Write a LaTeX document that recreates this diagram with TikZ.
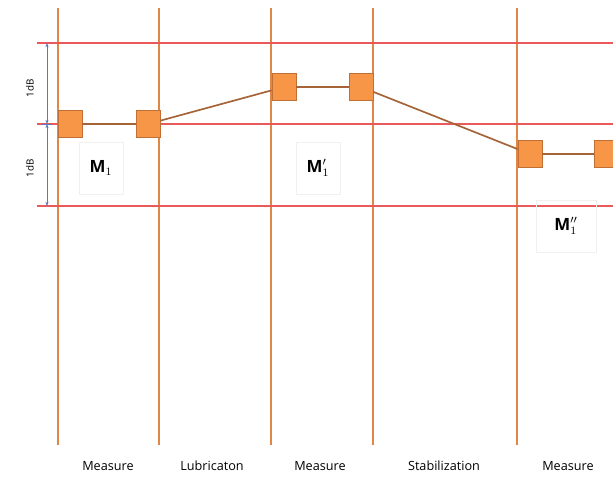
\documentclass[tikz,border=0pt]{standalone}
\usepackage{fontspec}
\setmainfont{Open Sans}
\usepackage{tikz}
\usetikzlibrary{arrows.meta,positioning}
\definecolor{orange1}{RGB}{247,150,70}
\definecolor{orangedark}{RGB}{192,112,52}
\definecolor{brown1}{RGB}{165,100,55}
\definecolor{vline1}{RGB}{225,135,70}
\definecolor{red1}{RGB}{235,90,90}
\definecolor{blue1}{RGB}{90,120,190}

\begin{document}
\begin{tikzpicture}[x=0.025cm, y=-0.025cm,
    sample/.style={draw=orangedark, fill=orange1, line width=0.6pt, minimum width=0.6cm, minimum height=0.68cm, inner sep=0pt},
    phase/.style={draw=vline1, line width=0.9pt},
    limit/.style={draw=red1, line width=0.8pt},
    dimarrow/.style={{Stealth[length=3pt]}-{Stealth[length=3pt]}, draw=blue1, line width=0.5pt},
    trend/.style={draw=brown1, line width=1.2pt},
    mlabel/.style={draw=black!6, font=\large\bfseries, minimum width=1.1cm, minimum height=1.3cm},
    steplabel/.style={font=\small}
]
    \useasboundingbox (0,0) rectangle (613,479);

    % phase borders
    \foreach \x in {58,159,271,373,517}
        \draw[phase] (\x,8) -- (\x,445);

    % limits
    \foreach \y in {43,124,206}
        \draw[limit] (37,\y) -- (613,\y);

    % 1dB spans
    \coordinate (top) at (47,43);
    \coordinate (mid) at (47,124);
    \coordinate (bot) at (47,206);
    \draw[dimarrow] (top) -- (mid);
    \draw[dimarrow] (mid) -- (bot);
    \draw[draw=blue1, line width=0.5pt] (42,124) -- (52,124);
    \node[rotate=90, font=\scriptsize, name=dbup] at (30,88) {1dB};
    \node[rotate=90, font=\scriptsize, name=dblow] at (30,168) {1dB};

    % samples
    \node[sample, name=m1a] at (70,124) {};
    \node[sample, name=m1b] at (148,124) {};
    \node[sample, name=m2a] at (284,87) {};
    \node[sample, name=m2b] at (361,87) {};
    \node[sample, name=m3a] at (530,154) {};
    \node[sample, name=m3b] at (606,154) {};

    \draw[trend] (m1a) -- (m1b);
    \draw[trend] (m1b) -- (m2a);
    \draw[trend] (m2a) -- (m2b);
    \draw[trend] (m2b) -- (m3a);
    \draw[trend] (m3a) -- (m3b);

    % measurement labels
    \node[mlabel, name=lab1] at (101,168) {M$_1$};
    \node[mlabel, name=lab2] at (318,168) {M$'_1$};
    \node[mlabel, minimum width=1.5cm, name=lab3] at (566,226) {M$''_1$};

    % steps
    \node[steplabel, name=s1] at (108,466) {Measure};
    \node[steplabel, name=s2] at (212,466) {Lubricaton};
    \node[steplabel, name=s3] at (320,466) {Measure};
    \node[steplabel, name=s4] at (444,466) {Stabilization};
    \node[steplabel, name=s5] at (568,466) {Measure};
\end{tikzpicture}
\end{document}
